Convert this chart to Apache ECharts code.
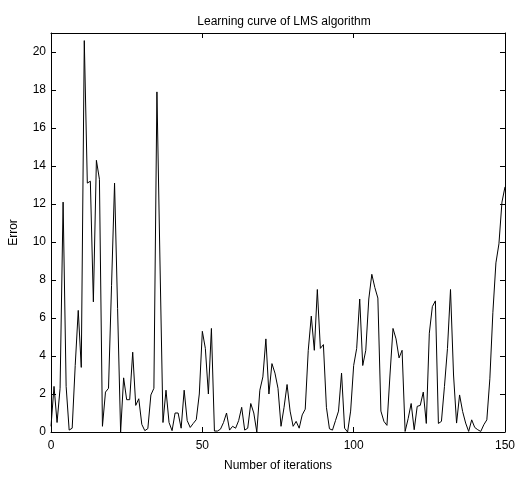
<!DOCTYPE html>
<html>
<head>
<meta charset="utf-8">
<script src="https://cdn.jsdelivr.net/npm/echarts@6/dist/echarts.min.js"></script>
<style>
  html, body { margin: 0; padding: 0; background: #fff; }
  #chart { width: 518px; height: 477px; }
</style>
</head>
<body>
<div id="chart"></div>
<script>
// 误差值, 每次迭代一个 (0..150)
const errors = [
    0.3, 2.4, 0.5, 2.3, 12.1, 2.4, 0.1, 0.2, 3.5, 6.4,
    3.4, 20.6, 13.1, 13.2, 6.85, 14.3, 13.3, 0.3, 2.1, 2.3,
    7.7, 13.1, 6.5, 0.0, 2.85, 1.7, 1.7, 4.2, 1.4, 1.75,
    0.4, 0.07, 0.18, 1.95, 2.3, 17.9, 9.0, 0.5, 2.2, 0.5,
    0.07, 1.0, 1.0, 0.2, 2.2, 0.6, 0.24, 0.45, 0.65, 2.0,
    5.3, 4.4, 2.0, 5.45, 0.05, 0.05, 0.15, 0.5, 1.0, 0.1,
    0.3, 0.2, 0.6, 1.3, 0.1, 0.2, 1.5, 1.0, 0.0, 2.2,
    2.9, 4.9, 2.0, 3.6, 3.1, 2.3, 0.3, 1.3, 2.5, 1.1,
    0.3, 0.56, 0.2, 0.9, 1.2, 4.3, 6.1, 4.3, 7.5, 4.4,
    4.6, 1.3, 0.17, 0.1, 0.6, 1.1, 3.1, 0.2, 0.0, 1.1,
    3.5, 4.4, 7.0, 3.5, 4.3, 7.0, 8.3, 7.6, 7.05, 1.1,
    0.56, 0.35, 3.0, 5.45, 4.9, 3.9, 4.3, 0.03, 0.7, 1.5,
    0.12, 1.35, 1.4, 2.1, 0.45, 5.2, 6.6, 6.9, 0.45, 0.56,
    2.4, 4.4, 7.5, 3.0, 0.47, 1.95, 1.08, 0.47, 0.03, 0.64,
    0.24, 0.12, 0.03, 0.38, 0.64, 2.8, 6.3, 8.9, 9.9, 12.1,
    12.9
];
const xTicks = [0, 50, 100, 150];   // x 轴刻度
const yTicks = [0, 2, 4, 6, 8, 10, 12, 14, 16, 18, 20]; // y 轴刻度

const font = 'Liberation Sans, Arial, sans-serif';
const points = errors.map((v, i) => [i, v]);

const chart = echarts.init(document.getElementById('chart'), null, {renderer: 'canvas'});

// 公共坐标轴样式
const axisBase = {
    axisLine: {show: true, onZero: false, lineStyle: {color: '#000', width: 1}},
    axisTick: {show: true, inside: true, length: 5, lineStyle: {color: '#000', width: 1}},
    splitLine: {show: false}
};

chart.setOption({
    animation: false,
    backgroundColor: '#fff',
    title: {
        text: 'Learning curve of LMS algorithm',
        left: 279,
        top: 11,
        textAlign: 'center',
        textStyle: {fontFamily: font, fontSize: 12, fontWeight: 'normal', color: '#000'}
    },
    grid: {left: 48, top: 33, width: 463, height: 401, containLabel: false},
    xAxis: [
        Object.assign({}, axisBase, {
            type: 'value',
            min: xTicks[0],
            max: xTicks[xTicks.length - 1],
            interval: 50,
            position: 'bottom',
            name: 'Number of iterations',
            nameLocation: 'middle',
            nameGap: 28,
            nameTextStyle: {fontFamily: font, fontSize: 12, color: '#000'},
            axisLabel: {fontFamily: font, fontSize: 12, color: '#000', margin: 8}
        }),
        Object.assign({}, axisBase, {
            type: 'value',
            min: xTicks[0],
            max: xTicks[xTicks.length - 1],
            interval: 50,
            position: 'top',
            axisLabel: {show: false}
        })
    ],
    yAxis: [
        Object.assign({}, axisBase, {
            type: 'value',
            min: yTicks[0],
            max: 21,
            interval: 2,
            position: 'left',
            name: 'Error',
            nameLocation: 'middle',
            nameGap: 31,
            nameTextStyle: {fontFamily: font, fontSize: 12, color: '#000'},
            axisLabel: {fontFamily: font, fontSize: 12, color: '#000', margin: 5, showMaxLabel: false,
                formatter: v => yTicks.indexOf(v) >= 0 ? String(v) : ''}
        }),
        Object.assign({}, axisBase, {
            type: 'value',
            min: yTicks[0],
            max: 21,
            interval: 2,
            position: 'right',
            axisLabel: {show: false}
        })
    ],
    series: [{
        type: 'line',
        xAxisIndex: 0,
        yAxisIndex: 0,
        data: points,
        showSymbol: false,
        symbol: 'none',
        lineStyle: {color: '#000', width: 1},
        silent: true
    }]
});
</script>
</body>
</html>
